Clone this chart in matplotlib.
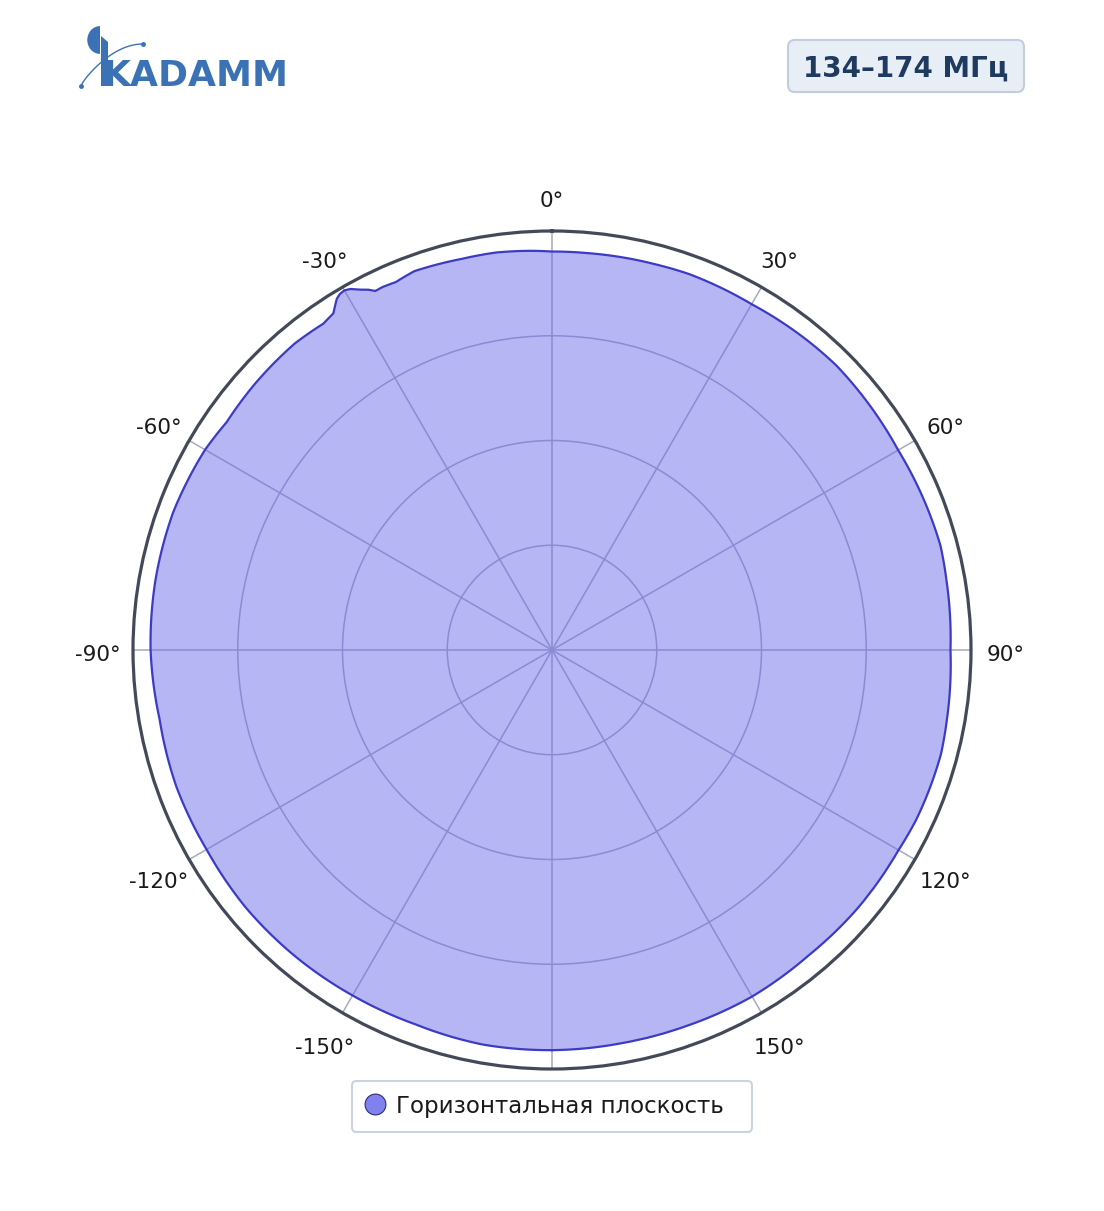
import numpy as np
import matplotlib
matplotlib.use("Agg")
import matplotlib.pyplot as plt
from matplotlib.patches import Wedge, FancyBboxPatch, Polygon
from matplotlib.lines import Line2D

# ---- data ----
angles_deg = [-180, -170, -160, -150, -140, -130, -120, -110, -100, -90, -80, -70,
              -60, -55, -48, -40, -35, -33, -31.5, -30.8, -30, -29.2, -28, -27,
              -26.2, -25, -23, -20, -13, -8, -3, 0, 5, 10, 15, 20, 30, 40, 45,
              50, 60, 70, 75, 80, 90, 100, 105, 115, 120, 130, 140, 150, 160,
              170, 180]
gain = [0.955, 0.956, 0.951, 0.952, 0.954, 0.955, 0.952, 0.954, 0.951, 0.958, 0.961, 0.962,
        0.956, 0.948, 0.952, 0.955, 0.951, 0.958, 0.983, 0.989, 0.991, 0.987, 0.974, 0.965,
        0.955, 0.956, 0.954, 0.962, 0.958, 0.958, 0.954, 0.951, 0.951, 0.952, 0.953, 0.955,
        0.953, 0.958, 0.960, 0.958, 0.954, 0.958, 0.960, 0.956, 0.951, 0.957, 0.961, 0.959,
        0.955, 0.955, 0.952, 0.955, 0.953, 0.953, 0.955]
tick_angles = [0, 30, 60, 90, 120, 150, 180, 210, 240, 270, 300, 330]
tick_labels = ['0°', '30°', '60°', '90°', '120°', '150°', '', '-150°', '-120°',
               '-90°', '-60°', '-30°']
r_grid = [0.25, 0.5, 0.75]
series_name = 'Горизонтальная плоскость'
band_text = '134–174 МГц'
logo_text = 'KADAMM'

W, H = 1104, 1211
fig = plt.figure(figsize=(W / 100, H / 100), dpi=100)
fig.patch.set_facecolor('white')

cx, cy, R = 552, 650, 419
ax = fig.add_axes([(cx - R) / W, (H - cy - R) / H, 2 * R / W, 2 * R / H],
                  projection='polar')
ax.set_theta_zero_location('N')
ax.set_theta_direction(-1)
ax.set_ylim(0, 1)
ax.set_facecolor('white')

theta = np.deg2rad(angles_deg)
polys = ax.fill(theta, gain, color=(0.43, 0.43, 0.92), alpha=0.5, zorder=2, lw=0)
for p in polys:
    p.get_path()._interpolation_steps = 40
line, = ax.plot(theta, gain, color='#3b3bc6', lw=1.6, zorder=3)
line.get_path()._interpolation_steps = 40

ax.set_thetagrids(tick_angles, [''] * len(tick_angles))
ax.set_rgrids(r_grid, labels=[''] * len(r_grid))
ax.grid(True, color='#a6aabb', lw=1.1, zorder=1)
ax.set_axisbelow(True)
ax.tick_params(axis='y', length=0)
ax.spines['polar'].set_color('#434958')
ax.spines['polar'].set_linewidth(2.3)

# angular labels placed just outside the outer ring
for ang, lab in zip(tick_angles, tick_labels):
    if not lab:
        continue
    a = np.deg2rad(ang)
    ax.annotate(lab, xy=(a, 1.0), xycoords='data',
                xytext=(35 * np.sin(a), 35 * np.cos(a) - 5), textcoords='offset pixels',
                ha='center', va='center', fontsize=15.5, color='#1a1a1a',
                annotation_clip=False)

def fx(x):
    return x / W

def fy(y):
    return 1 - y / H

# ---- legend ----
leg_box = FancyBboxPatch((fx(352), fy(1132)), fx(752) - fx(352), fy(1081) - fy(1132),
                         boxstyle='round,pad=0,rounding_size=0.004',
                         transform=fig.transFigure, facecolor='white',
                         edgecolor='#cbd3e0', lw=1.5)
fig.add_artist(leg_box)
fig.add_artist(Line2D([fx(375)], [fy(1104)], marker='o', markersize=15,
                      markerfacecolor='#8080ee', markeredgecolor='#2e2e6e',
                      markeredgewidth=0.8, transform=fig.transFigure))
fig.text(fx(396), fy(1104), series_name, fontsize=16.5, color='#1a1a1a',
         ha='left', va='center_baseline')

# ---- band label ----
band_box = FancyBboxPatch((fx(788), fy(92)), fx(1024) - fx(788), fy(40) - fy(92),
                          boxstyle='round,pad=0,rounding_size=0.006',
                          transform=fig.transFigure, facecolor='#e8eef6',
                          edgecolor='#c2cddd', lw=1.5)
fig.add_artist(band_box)
fig.text(fx(906), fy(66), band_text, fontsize=20, fontweight='bold',
         color='#1e3a5f', ha='center', va='center_baseline')

# ---- logo ----
blue = '#3a72b5'
fig.text(fx(103), fy(86), logo_text, fontsize=26, fontweight='bold',
         color=blue, ha='left', va='baseline')
fig.add_artist(Wedge((fx(100), fy(40)), 0.0115, 90, 270, transform=fig.transFigure,
                     facecolor=blue, edgecolor='none'))
fig.add_artist(Polygon([(fx(101), fy(36)), (fx(108), fy(42)), (fx(108), fy(86)),
                        (fx(101), fy(86))], closed=True, transform=fig.transFigure,
                       facecolor=blue, edgecolor='none'))
xs = np.linspace(81, 143, 40)
ys = 86 - 42 * np.sin((xs - 81) / 62 * np.pi / 2) ** 0.8
fig.add_artist(Line2D([fx(x) for x in xs], [fy(y) for y in ys], color=blue, lw=1.0,
                      transform=fig.transFigure))
fig.add_artist(Line2D([fx(81), fx(143)], [fy(86), fy(44)], ls='none', marker='o',
                      markersize=2.5, color=blue, transform=fig.transFigure))

fig.savefig('out.png', dpi=100, facecolor='white')
